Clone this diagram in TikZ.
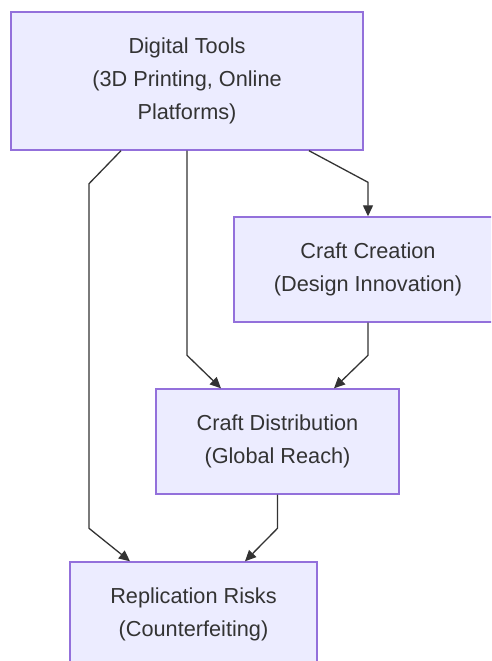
\documentclass[tikz,border=0pt]{standalone}
\usepackage{fontspec}
\setmainfont{Liberation Sans}
\usetikzlibrary{arrows.meta}
\definecolor{boxfill}{HTML}{ECECFF}
\definecolor{boxline}{HTML}{9370DB}
\definecolor{ink}{HTML}{333333}

\begin{document}
\begin{tikzpicture}[x=1pt,y=-1pt,>={Triangle[length=11pt,width=10pt]},
    box/.style={draw=boxline,fill=boxfill,line width=1.4pt,text=ink,align=center,inner sep=0pt,
        font={\fontsize{21.7pt}{33pt}\selectfont}},
    flow/.style={->,draw=ink,line width=1.3pt}]
        \useasboundingbox (0,0) rectangle (491,661);
        \clip (0,0) rectangle (491,661);
        \node[box,minimum width=352pt,minimum height=138pt] (tools) at (187,81) {Digital Tools\\(3D Printing, Online\\Platforms)};
        \node[box,minimum width=268pt,minimum height=105pt] (creation) at (368,269.5) {Craft Creation\\(Design Innovation)};
        \node[box,minimum width=243pt,minimum height=105pt] (distribution) at (277.5,441.5) {Craft Distribution\\(Global Reach)};
        \node[box,minimum width=247pt,minimum height=105pt] (risks) at (193.5,614.5) {Replication Risks\\(Counterfeiting)};
        \draw[flow] ([xshift=122pt]tools.south) -- ([yshift=34pt]creation.north) -- (creation.north);
        \draw[flow] (tools.south) -- ([xshift=-90.5pt,yshift=33pt]distribution.north) -- ([xshift=-56.5pt]distribution.north);
        \draw[flow] ([xshift=-66pt]tools.south) -- ([xshift=-98pt,yshift=-33pt]tools.south)
            -- ([xshift=-104.5pt,yshift=33pt]risks.north) -- ([xshift=-63.5pt]risks.north);
        \draw[flow] (creation.south) -- ([xshift=90.5pt,yshift=33pt]distribution.north) -- ([xshift=56.5pt]distribution.north);
        \draw[flow] (distribution.south) -- ([xshift=84pt,yshift=33pt]risks.north) -- ([xshift=51.5pt]risks.north);
    \end{tikzpicture}
\end{document}
